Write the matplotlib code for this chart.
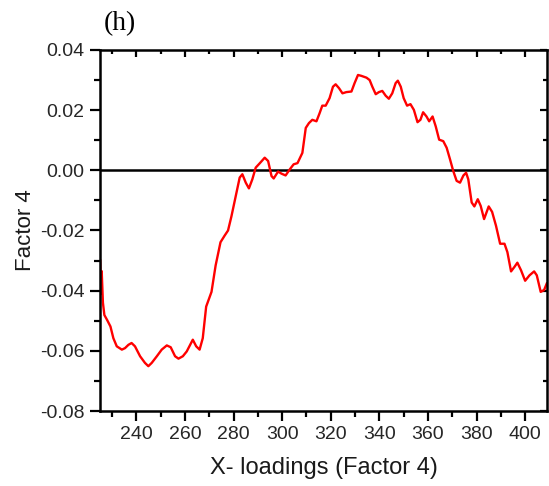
import matplotlib
matplotlib.use("Agg")
import matplotlib.pyplot as plt
from matplotlib.ticker import MultipleLocator, FormatStrFormatter

plt.rcParams['font.family'] = ['Liberation Sans', 'DejaVu Sans']
plt.rcParams['axes.unicode_minus'] = False

# X-loadings of factor 4 versus wavelength (nm)
wavelength = [
    225.1, 225.4, 225.7, 226.2, 226.8, 227.9, 229.3, 230.5, 231.9, 234.0,
    235.3, 236.7, 238.0, 239.4, 241.5, 243.5, 244.9, 246.3, 248.4, 250.4,
    252.5, 254.1, 255.9, 257.3, 259.1, 260.7, 263.2, 264.6, 266.0, 267.3,
    268.7, 270.9, 272.6, 274.6, 276.3, 277.7, 279.1, 281.2, 282.5, 283.6,
    285.0, 286.3, 287.7, 289.1, 290.7, 292.8, 294.2, 295.6, 296.5, 298.3,
    299.7, 301.4, 303.1, 304.7, 306.3, 308.3, 309.7, 311.0, 312.4, 314.1,
    315.4, 316.5, 317.9, 319.5, 320.9, 322.0, 323.4, 324.8, 326.4, 328.5,
    329.8, 331.2, 332.6, 334.7, 336.0, 337.1, 338.5, 339.8, 341.2, 342.6,
    343.9, 345.3, 346.7, 347.6, 348.8, 350.0, 351.4, 352.8, 354.2, 355.7,
    356.9, 358.0, 359.4, 360.5, 361.9, 363.2, 364.6, 366.3, 367.7, 369.1,
    370.4, 371.8, 373.2, 374.6, 375.7, 376.6, 378.0, 379.1, 380.5, 381.7,
    383.1, 385.0, 386.4, 388.0, 389.7, 391.5, 392.7, 394.2, 395.6, 396.8,
    398.3, 400.0, 401.8, 403.7, 404.8, 406.4, 407.8, 408.9,
]
factor4 = [
    -0.0300, -0.0410, -0.0335, -0.0440, -0.0481, -0.0497, -0.0519, -0.0558, -0.0585, -0.0596,
    -0.0591, -0.0580, -0.0574, -0.0585, -0.0618, -0.0640, -0.0651, -0.0640, -0.0618, -0.0596,
    -0.0582, -0.0588, -0.0618, -0.0626, -0.0618, -0.0602, -0.0563, -0.0585, -0.0596, -0.0558,
    -0.0453, -0.0404, -0.0316, -0.0239, -0.0217, -0.0200, -0.0153, -0.0074, -0.0024, -0.0013,
    -0.0041, -0.0060, -0.0030, 0.0009, 0.0023, 0.0042, 0.0031, -0.0019, -0.0027, -0.0004,
    -0.0011, -0.0017, 0.0003, 0.0020, 0.0024, 0.0058, 0.0141, 0.0157, 0.0168, 0.0163,
    0.0190, 0.0215, 0.0215, 0.0240, 0.0278, 0.0286, 0.0273, 0.0256, 0.0260, 0.0262,
    0.0290, 0.0317, 0.0314, 0.0308, 0.0300, 0.0278, 0.0253, 0.0260, 0.0264, 0.0248,
    0.0238, 0.0256, 0.0290, 0.0298, 0.0278, 0.0240, 0.0215, 0.0220, 0.0201, 0.0160,
    0.0168, 0.0193, 0.0179, 0.0163, 0.0179, 0.0146, 0.0102, 0.0097, 0.0075, 0.0036,
    -0.0002, -0.0035, -0.0041, -0.0017, -0.0008, -0.0030, -0.0107, -0.0120, -0.0096, -0.0118,
    -0.0162, -0.0120, -0.0138, -0.0184, -0.0244, -0.0244, -0.0272, -0.0336, -0.0321, -0.0307,
    -0.0332, -0.0367, -0.0349, -0.0336, -0.0349, -0.0404, -0.0398, -0.0376,
]

x_major = [240, 260, 280, 300, 320, 340, 360, 380, 400]

fig = plt.figure(figsize=(5.49, 4.86), dpi=100)
ax = fig.add_axes([100 / 549, 75 / 486, 447 / 549, 361 / 486])

ax.plot(wavelength, factor4, color='#ff0000', lw=1.7, solid_joinstyle='round')
ax.axhline(0.0, color='black', lw=1.8, zorder=1)

ax.set_xlim(225, 409)
ax.set_ylim(-0.08, 0.04)
ax.set_xticks(x_major)
ax.xaxis.set_minor_locator(MultipleLocator(10))
ax.yaxis.set_major_locator(MultipleLocator(0.02))
ax.yaxis.set_minor_locator(MultipleLocator(0.01))
ax.yaxis.set_major_formatter(FormatStrFormatter('%.2f'))

for s in ax.spines.values():
    s.set_linewidth(1.8)
    s.set_color('black')

ax.tick_params(which='major', direction='out', length=7, width=1.6,
               labelsize=14, labelcolor='#262626', pad=4)
ax.tick_params(which='minor', direction='out', length=4, width=1.6)
ax.tick_params(which='both', top=True, right=True)

# mirrored ticks on top and right point inward
for t in ax.xaxis.get_major_ticks() + ax.xaxis.get_minor_ticks():
    t.tick2line.set_marker(matplotlib.lines.TICKDOWN)
for t in ax.yaxis.get_major_ticks() + ax.yaxis.get_minor_ticks():
    t.tick2line.set_marker(matplotlib.lines.TICKLEFT)
for t in ax.xaxis.get_minor_ticks() + ax.yaxis.get_minor_ticks():
    t.tick2line.set_markersize(3)
for t in ax.xaxis.get_major_ticks() + ax.yaxis.get_major_ticks():
    t.tick2line.set_markersize(5)

ax.set_xlabel('X- loadings (Factor 4)', fontsize=17, color='#1a1a1a', labelpad=10)
ax.set_ylabel('Factor 4', fontsize=16, color='#1a1a1a', labelpad=3)

fig.text(104 / 549, 1 - 24 / 486, '(h)', family=['Liberation Serif'],
         fontsize=20, va='center', ha='left', color='black')

fig.savefig('out.png', dpi=100)
